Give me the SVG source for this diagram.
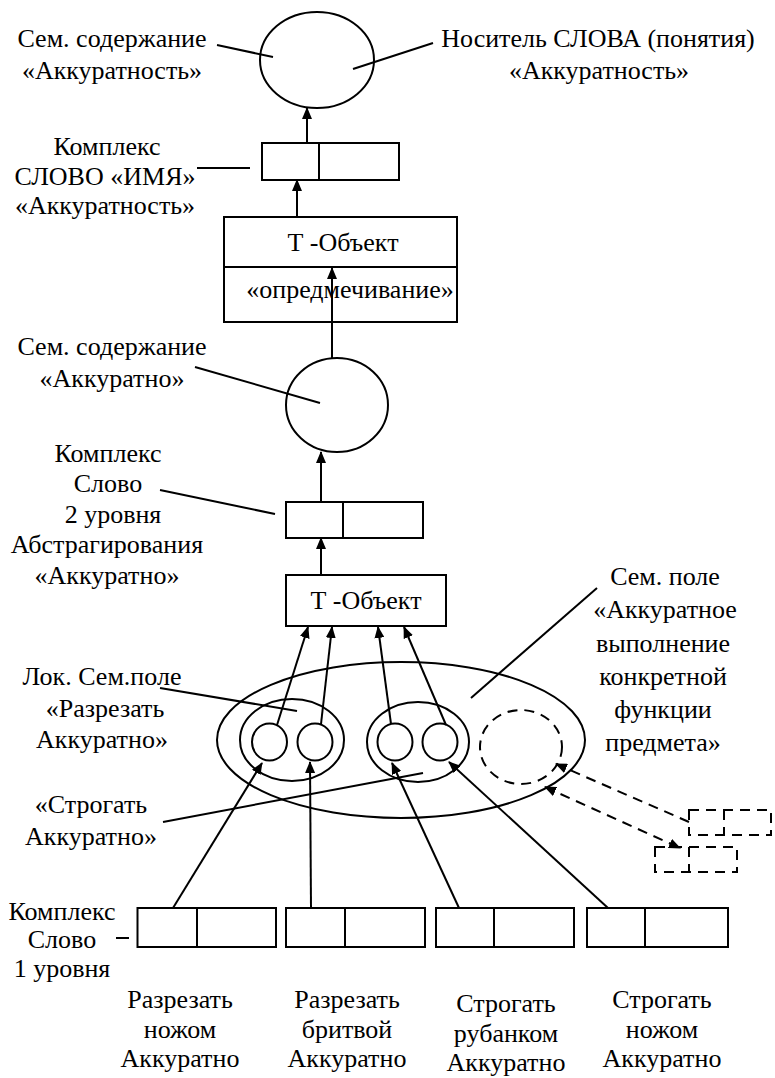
<svg xmlns="http://www.w3.org/2000/svg" width="775" height="1078" viewBox="0 0 775 1078">
<defs>
<marker id="ah" markerUnits="userSpaceOnUse" markerWidth="12" markerHeight="10" refX="11" refY="5" orient="auto-start-reverse"><path d="M0,0 L12,5 L0,10 z" fill="#000"/></marker>
</defs>
<style>
.s{fill:none;stroke:#000;stroke-width:2}
.d{fill:none;stroke:#000;stroke-width:2;stroke-dasharray:10 7}
.a{marker-end:url(#ah)}
text{font-family:"Liberation Serif","Times New Roman",serif;font-size:26px;fill:#000;text-anchor:middle}
</style>
<rect width="775" height="1078" fill="#fff"/>

<g id="sem-top"><ellipse class="s" cx="317" cy="60" rx="57" ry="48"/></g>
<g id="label-sem-top"><text x="112" y="47">Сем. содержание</text><text x="112" y="79">«Аккуратность»</text></g>
<g id="label-nositel"><text x="598" y="47">Носитель СЛОВА (понятия)</text><text x="599" y="79">«Аккуратность»</text></g>

<g id="complex-top"><rect class="s" x="262" y="143" width="137" height="37"/><line class="s" x1="319" y1="143" x2="319" y2="180"/></g>
<g id="label-complex-top"><text x="107" y="155">Комплекс</text><text x="105" y="185">СЛОВО «ИМЯ»</text><text x="105" y="214">«Аккуратность»</text></g>

<g id="tobject-top"><rect class="s" x="224" y="217" width="233" height="105"/><line class="s" x1="224" y1="267" x2="457" y2="267"/><text x="343" y="251">Т -Объект</text><text x="350" y="298">«опредмечивание»</text></g>

<g id="sem-mid"><ellipse class="s" cx="337" cy="405" rx="51" ry="47"/></g>
<g id="label-sem-mid"><text x="112" y="355">Сем. содержание</text><text x="112" y="387">«Аккуратно»</text></g>

<g id="complex-2"><rect class="s" x="286" y="502" width="137" height="36"/><line class="s" x1="343" y1="502" x2="343" y2="538"/></g>
<g id="label-complex-2"><text x="108" y="462">Комплекс</text><text x="108" y="492">Слово</text><text x="113" y="523">2 уровня</text><text x="107" y="553">Абстрагирования</text><text x="107" y="584">«Аккуратно»</text></g>

<g id="tobject-2"><rect class="s" x="286" y="575" width="160" height="51"/><text x="366" y="609">Т -Объект</text></g>

<g id="sem-field"><ellipse class="s" cx="401" cy="740" rx="184" ry="78"/></g>
<g id="label-sem-field"><text x="665" y="585">Сем. поле</text><text x="665" y="618">«Аккуратное</text><text x="663" y="652">выполнение</text><text x="663" y="685">конкретной</text><text x="663" y="718">функции</text><text x="663" y="751">предмета»</text></g>

<g id="lok-cut"><ellipse class="s" cx="292" cy="740" rx="52" ry="41"/><ellipse class="s" cx="269.5" cy="742" rx="17.5" ry="18.5"/><ellipse class="s" cx="315" cy="742" rx="17.5" ry="18.5"/></g>
<g id="label-lok-cut"><text x="102" y="685">Лок. Сем.поле</text><text x="105" y="717">«Разрезать</text><text x="102" y="748">Аккуратно»</text></g>

<g id="lok-plane"><ellipse class="s" cx="418" cy="742" rx="51" ry="40"/><ellipse class="s" cx="395" cy="742" rx="17.5" ry="18.5"/><ellipse class="s" cx="440" cy="742" rx="17.5" ry="18.5"/></g>
<g id="label-lok-plane"><text x="91" y="813">«Строгать</text><text x="91" y="845">Аккуратно»</text></g>

<g id="lok-dashed"><ellipse class="d" cx="521" cy="747" rx="41" ry="37"/></g>
<g id="dashed-box-1"><rect class="d" x="689" y="810" width="82" height="25"/><line class="d" x1="724" y1="810" x2="724" y2="835"/></g>
<g id="dashed-box-2"><rect class="d" x="655" y="847" width="82" height="25"/><line class="d" x1="689" y1="847" x2="689" y2="872"/></g>

<g id="complex-1a"><rect class="s" x="137.5" y="908" width="138.5" height="39"/><line class="s" x1="197" y1="908" x2="197" y2="947"/></g>
<g id="complex-1b"><rect class="s" x="286" y="908" width="139" height="39"/><line class="s" x1="345" y1="908" x2="345" y2="947"/></g>
<g id="complex-1c"><rect class="s" x="436" y="908" width="138" height="39"/><line class="s" x1="494" y1="908" x2="494" y2="947"/></g>
<g id="complex-1d"><rect class="s" x="587" y="908" width="141" height="39"/><line class="s" x1="645" y1="908" x2="645" y2="947"/></g>
<g id="label-complex-1"><text x="62" y="920">Комплекс</text><text x="62" y="948">Слово</text><text x="62" y="977">1 уровня</text></g>

<g id="label-1a"><text x="180" y="1008">Разрезать</text><text x="180" y="1038">ножом</text><text x="180" y="1067">Аккуратно</text></g>
<g id="label-1b"><text x="347" y="1008">Разрезать</text><text x="347" y="1038">бритвой</text><text x="347" y="1067">Аккуратно</text></g>
<g id="label-1c"><text x="506" y="1012">Строгать</text><text x="506" y="1042">рубанком</text><text x="506" y="1071">Аккуратно</text></g>
<g id="label-1d"><text x="662" y="1008">Строгать</text><text x="662" y="1038">ножом</text><text x="662" y="1067">Аккуратно</text></g>

<g id="connectors">
<line class="s a" x1="307" y1="143" x2="307" y2="108"/>
<line class="s a" x1="297" y1="217" x2="297" y2="180"/>
<line class="s a" x1="332" y1="358" x2="332" y2="268"/>
<line class="s a" x1="321" y1="502" x2="321" y2="452"/>
<line class="s a" x1="321" y1="575" x2="321" y2="538"/>
<line class="s a" x1="277" y1="725" x2="308" y2="627"/>
<line class="s a" x1="321" y1="724" x2="332" y2="627"/>
<line class="s a" x1="391" y1="724" x2="378" y2="627"/>
<line class="s a" x1="446" y1="725" x2="404" y2="627"/>
<line class="s a" x1="173" y1="908" x2="262" y2="763"/>
<line class="s a" x1="311" y1="908" x2="310" y2="762"/>
<line class="s a" x1="459" y1="908" x2="392" y2="763"/>
<line class="s a" x1="608" y1="908" x2="449" y2="762"/>
<line class="d a" x1="689" y1="822" x2="556" y2="764"/>
<line class="d a" x1="545" y1="787" x2="680" y2="848" style="marker-start:url(#ah)"/>
<line class="s" x1="217" y1="45" x2="273" y2="57"/>
<line class="s" x1="433" y1="43" x2="353" y2="69"/>
<line class="s" x1="197" y1="168" x2="250" y2="168"/>
<line class="s" x1="195" y1="367" x2="320" y2="403"/>
<line class="s" x1="160" y1="490" x2="275" y2="514"/>
<line class="s" x1="597" y1="588" x2="471" y2="698"/>
<line class="s" x1="160" y1="688" x2="297" y2="711"/>
<line class="s" x1="163" y1="822" x2="423" y2="773"/>
<line class="s" x1="116" y1="938" x2="129" y2="938"/>
</g>
</svg>
